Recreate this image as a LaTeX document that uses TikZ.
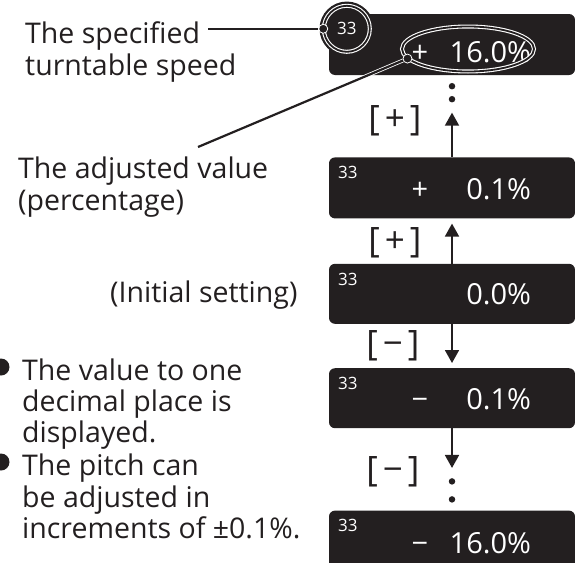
\documentclass[tikz,border=0pt]{standalone}
\usepackage{fontspec}
\setmainfont{Open Sans}
\usetikzlibrary{positioning,arrows.meta,shapes.geometric}
\definecolor{boxblack}{HTML}{231F20}

\begin{document}
\begin{tikzpicture}[x=1pt,y=-1pt,
    disp/.style={rectangle,fill=boxblack,rounded corners=6pt,minimum width=246pt,minimum height=61pt,inner sep=0pt},
    txt/.style={text=boxblack,inner sep=0pt,anchor=base west,font=\fontsize{28.5}{32}\selectfont},
    val/.style={text=white,inner sep=0pt,anchor=base east,font=\fontsize{29}{32}\selectfont},
    sgn/.style={text=white,inner sep=0pt,anchor=base,font=\fontsize{29}{32}\selectfont},
    rpm/.style={text=white,inner sep=0pt,font=\fontsize{17}{20}\selectfont},
    key/.style={text=boxblack,inner sep=0pt,font=\fontsize{35}{38}\selectfont},
    ring/.style={circle,fill=boxblack,draw=white,double=boxblack,line width=1.1pt,double distance=1.8pt,
      preaction={draw=boxblack,line width=8.5pt}},
    oval/.style={ellipse,draw=white,double=boxblack,line width=1.1pt,double distance=1.8pt},
    lead/.style={draw=white,double=boxblack,line width=0.8pt,double distance=2.2pt},
    dotpt/.style={circle,fill=boxblack,draw=white,line width=0.8pt,inner sep=0pt,minimum size=9pt},
    pt/.style={circle,fill=boxblack,inner sep=0pt,minimum size=6.5pt},
    bul/.style={circle,fill=boxblack,inner sep=0pt,minimum size=17pt},
    step arrow/.style={line width=1.8pt,draw=boxblack,-{Triangle[length=13pt,width=14pt]}}] %
    \clip (0,0) rectangle (575,562); %
    % displays
    \node[disp] (d1) at (452,44.5) {} ; %
    \node[disp, below=82pt of d1] (d2) {} ; %
    \node[disp, below=45pt of d2, minimum height=60pt] (d3) {} ; %
    \node[disp, below=44pt of d3, minimum height=60pt] (d4) {} ; %
    \node[disp, below=82pt of d4] (d5) {} ; %
    \node[ring, minimum size=46pt] (spd) at ([xshift=18pt,yshift=-15pt]d1.north west) {} ; %
    \node[rpm] (r1) at (spd) {33} ; %
    \node[rpm] (r2) at ([xshift=19pt,yshift=-15.5pt]d2.north west) {33} ; %
    \node[rpm] (r3) at ([xshift=19pt,yshift=-15.5pt]d3.north west) {33} ; %
    \node[rpm] (r4) at ([xshift=19pt,yshift=-15.5pt]d4.north west) {33} ; %
    \node[rpm] (r5) at ([xshift=19pt,yshift=-15.5pt]d5.north west) {33} ; %
    \node[sgn] (s1) at ([xshift=91pt,yshift=13pt]d1.south west) {+} ; %
    \node[val] (v1) at ([xshift=-44pt,yshift=13pt]d1.south east) {16.0\%} ; %
    \node[sgn] (s2) at ([xshift=91pt,yshift=19pt]d2.south west) {+} ; %
    \node[val] (v2) at ([xshift=-44pt,yshift=19pt]d2.south east) {0.1\%} ; %
    \node[val] (v3) at ([xshift=-44pt,yshift=20pt]d3.south east) {0.0\%} ; %
    \node[sgn] (s4) at ([xshift=91pt,yshift=19pt]d4.south west) {−} ; %
    \node[val] (v4) at ([xshift=-44pt,yshift=19pt]d4.south east) {0.1\%} ; %
    \node[sgn] (s5) at ([xshift=91pt,yshift=18pt]d5.south west) {−} ; %
    \node[val] (v5) at ([xshift=-44pt,yshift=18pt]d5.south east) {16.0\%} ; %
    \node[oval, minimum width=132pt, minimum height=45pt] (pct) at ([xshift=16pt,yshift=-4.5pt]d1.center) {} ; %
    % steps between displays
    \node[pt] (p1) at ([yshift=-11pt]d1.south) {} ; %
    \node[pt, below=13pt of p1.center, anchor=center] (p2) {} ; %
    \node[pt] (p3) at ([yshift=-53pt]d4.south) {} ; %
    \node[pt, below=18pt of p3.center, anchor=center] (p4) {} ; %
    \draw[step arrow, shorten >=10pt] (d2.north) -- (p2) ; %
    \draw[step arrow, shorten >=5pt] (d3.north) -- (d2.south) ; %
    \draw[step arrow, shorten >=5pt] (d3.south) -- (d4.north) ; %
    \draw[step arrow, shorten >=10pt] (d4.south) -- (p3) ; %
    \node[key] (k1) at (395,121) {[\kern5pt+\kern5pt]} ; %
    \node[key] (k2) at (395,243) {[\kern5pt+\kern5pt]} ; %
    \node[key] (k3) at (393,346) {[\kern5pt−\kern5pt]} ; %
    \node[key] (k4) at (393,472) {[\kern5pt−\kern5pt]} ; %
    % labels on the left
    \node[txt] (spd1) at (25,43) {The specified} ; %
    \node[txt] (spd2) at ([yshift=-32pt]spd1.base west) {turntable speed} ; %
    \node[txt] (adj1) at (18,178) {The adjusted value} ; %
    \node[txt] (adj2) at ([yshift=-32pt]adj1.base west) {(percentage)} ; %
    \node[txt] (init) at (110,302) {(Initial setting)} ; %
    \node[txt] (b1a) at (22,380) {The value to one} ; %
    \node[txt] (b1b) at ([yshift=-31pt]b1a.base west) {decimal place is} ; %
    \node[txt] (b1c) at ([yshift=-31pt]b1b.base west) {displayed.} ; %
    \node[txt] (b2a) at (22,475) {The pitch can} ; %
    \node[txt] (b2b) at ([yshift=-32pt]b2a.base west) {be adjusted in} ; %
    \node[txt] (b2c) at ([yshift=-31pt]b2b.base west) {increments of ±0.1\%.} ; %
    \node[bul] (bul1) at ([xshift=-21pt,yshift=13pt]b1a.base west) {} ; %
    \node[bul] (bul2) at ([xshift=-21pt,yshift=13pt]b2a.base west) {} ; %
    % leaders
    \node[dotpt] (dot1) at (spd.west) {} ; %
    \draw[boxblack, line width=1.8pt] ([xshift=8pt]spd1.east |- dot1) -- (dot1) ; %
    \node[dotpt] (dot2) at (pct.189) {} ; %
    \coordinate (adjend) at ([xshift=180pt,yshift=31pt]adj1.base west) ; %
    \draw[lead] (adjend) -- (dot2) ; %
  \end{tikzpicture}
\end{document}
